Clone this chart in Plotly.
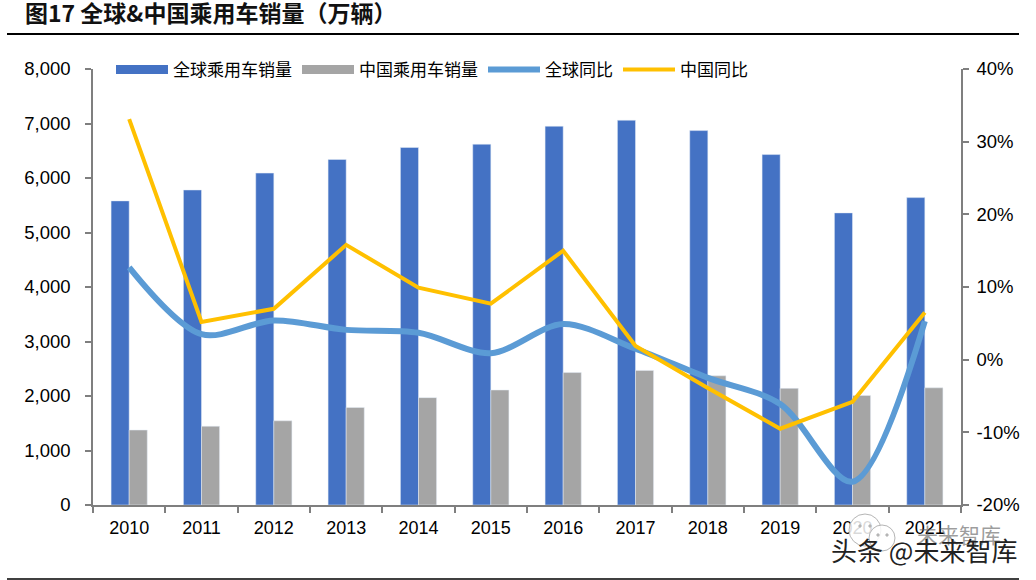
import plotly.graph_objects as go

years = ["2010","2011","2012","2013","2014","2015","2016","2017","2018","2019","2020","2021"]
global_sales = [5580,5780,6090,6340,6560,6620,6950,7060,6870,6430,5360,5640]
china_sales = [1375,1445,1545,1790,1970,2110,2430,2470,2370,2140,2010,2150]
global_yoy = [12.7,3.5,5.4,4.1,3.7,0.9,4.9,1.5,-2.5,-6.1,-16.8,5.3]
china_yoy = [33.1,5.2,7.0,15.8,9.9,7.7,15.0,1.9,-3.9,-9.5,-5.8,6.5]
left_ticks = [0,1000,2000,3000,4000,5000,6000,7000,8000]
right_ticks = [-20,-10,0,10,20,30,40]

CJK = "Noto Sans CJK SC"
LAT = "Liberation Sans"
BLUE, GREY = "#4472C4", "#A5A5A5"
fig = go.Figure()
fig.add_bar(x=years, y=global_sales, name="全球乘用车销量", marker_color=BLUE, offsetgroup=1, showlegend=False)
fig.add_bar(x=years, y=china_sales, name="中国乘用车销量", marker_color=GREY, offsetgroup=2, showlegend=False)
# wide rectangular legend keys for the bars
fig.add_scatter(x=[None], y=[None], name="全球乘用车销量", mode="lines", line=dict(color=BLUE, width=9))
fig.add_scatter(x=[None], y=[None], name="中国乘用车销量", mode="lines", line=dict(color=GREY, width=9))
fig.add_scatter(x=years, y=global_yoy, name="全球同比", yaxis="y2", mode="lines",
                line=dict(color="#5B9BD5", width=6, shape="spline", smoothing=0.9))
fig.add_scatter(x=years, y=china_yoy, name="中国同比", yaxis="y2", mode="lines",
                line=dict(color="#FFC000", width=4))

axis_line = "#7f7f7f"
def px(v): return (v-93)/868
def py(v): return (505-v)/436
def circle(cx, cy, r, fill="rgba(255,255,255,0.85)", line="#b5b5b5"):
    return dict(type="circle", xref="paper", yref="paper", x0=px(cx-r), x1=px(cx+r), y0=py(cy+r), y1=py(cy-r),
                fillcolor=fill, line=dict(color=line, width=1), layer="above")
fig.update_layout(
    width=1036, height=580, autosize=False,
    margin=dict(l=93, r=75, t=69, b=75),
    paper_bgcolor="white", plot_bgcolor="white",
    barmode="group", bargap=0.5, bargroupgap=0,
    font=dict(family=LAT, color="black", size=18.5),
    xaxis=dict(type="category", showgrid=False, showline=True, linecolor=axis_line, linewidth=1.5,
               ticks="outside", ticklen=6, tickcolor=axis_line, tickwidth=1.5,
               tickson="boundaries", tickfont=dict(size=18, family=LAT), ticklabelstandoff=6),
    yaxis=dict(range=[0,8000], tickvals=left_ticks, tickformat=",d", showgrid=False, showline=True,
               linecolor=axis_line, linewidth=1.5, ticks="outside", ticklen=6, tickcolor=axis_line,
               tickwidth=1.5, tickfont=dict(size=18.5, family=LAT), zeroline=False, ticklabelstandoff=11),
    yaxis2=dict(range=[-20,40], tickvals=right_ticks, ticktext=[f"{v}%" for v in right_ticks],
                overlaying="y", side="right", showgrid=False, showline=True, linecolor=axis_line,
                linewidth=1.5, ticks="outside", ticklen=6, tickcolor=axis_line, tickwidth=1.5,
                tickfont=dict(size=18.5, family=LAT), zeroline=False, ticklabelstandoff=4),
    legend=dict(orientation="h", x=px(111), y=py(70), xanchor="left", yanchor="middle",
                bgcolor="rgba(0,0,0,0)", font=dict(family=CJK, size=17),
                itemwidth=52, traceorder="normal"),
    shapes=[
        dict(type="line", xref="paper", yref="paper", x0=px(7), x1=px(1019), y0=py(34), y1=py(34),
             line=dict(color="black", width=2)),
        dict(type="line", xref="paper", yref="paper", x0=px(7), x1=px(1019), y0=py(579), y1=py(579),
             line=dict(color="black", width=1.5)),
        circle(865, 530, 16),
        circle(882, 538, 13),
        circle(860, 526, 1.2, "#b5b5b5"), circle(870, 526, 1.2, "#b5b5b5"),
        circle(878, 535, 1.2, "#b5b5b5"), circle(887, 535, 1.2, "#b5b5b5"),
    ],
    annotations=[
        dict(text="<b>图17 全球&中国乘用车销量（万辆）</b>", xref="paper", yref="paper", x=px(23), y=py(12.5),
             xanchor="left", yanchor="middle", showarrow=False, font=dict(family=CJK, size=23, color="#111111")),
        dict(text="未来智库", xref="paper", yref="paper", x=px(1003), y=py(534), xanchor="right", yanchor="middle",
             showarrow=False, font=dict(family=CJK, size=21, color="rgba(90,90,90,0.6)")),
        dict(text="头条 @未来智库", xref="paper", yref="paper", x=px(1019), y=py(549), xanchor="right", yanchor="middle",
             showarrow=False, font=dict(family=CJK, size=26, color="#222222")),
    ],
)
fig.write_html("out.html", config=dict(displayModeBar=False), post_script="document.body.style.margin='0';")
